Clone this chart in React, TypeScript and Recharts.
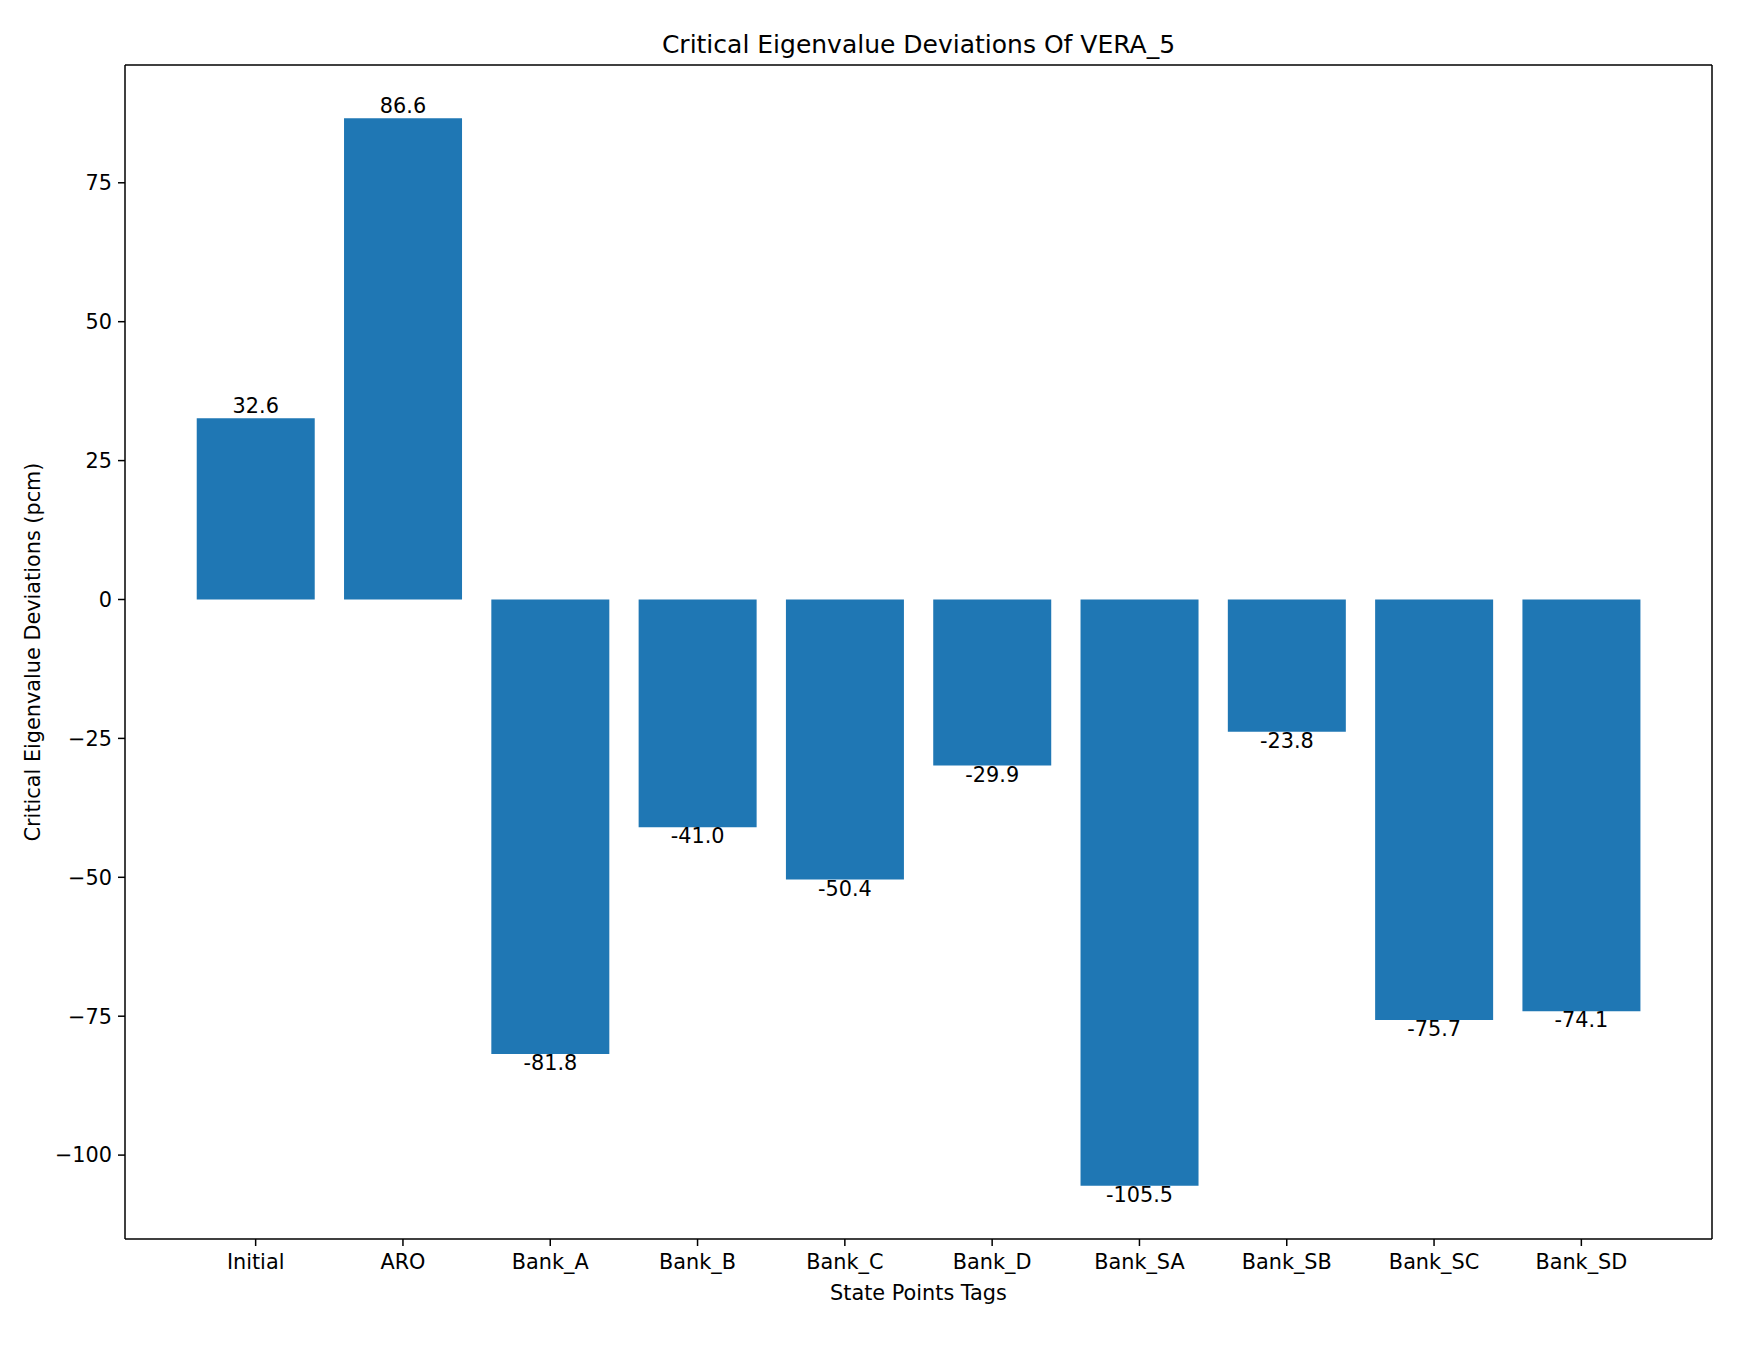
import { BarChart, Bar, XAxis, YAxis, LabelList } from 'recharts';

const categories = ['Initial', 'ARO', 'Bank_A', 'Bank_B', 'Bank_C', 'Bank_D', 'Bank_SA', 'Bank_SB', 'Bank_SC', 'Bank_SD'];
const deviations = [32.6, 86.6, -81.8, -41.0, -50.4, -29.9, -105.5, -23.8, -75.7, -74.1];
const yTicks = [-100, -75, -50, -25, 0, 25, 50, 75];

const FONT = 'DejaVu Sans';
const FS = 20.8;
const BLUE = '#1f77b4';

const chartData = categories.map((name, i) => ({ name, value: deviations[i] }));

const formatTick = (v: number) => (v < 0 ? `\u2212${Math.abs(v)}` : `${v}`);

function TitleLabel({ viewBox }: any) {
  return (
    <text x={viewBox.x + viewBox.width / 2} y={viewBox.y + viewBox.height - 12.5} textAnchor="middle" fontFamily={FONT} fontSize={25} fill="#000">
      Critical Eigenvalue Deviations Of VERA_5
    </text>
  );
}

function XLabel({ viewBox }: any) {
  return (
    <text x={viewBox.x + viewBox.width / 2} y={viewBox.y + 61} textAnchor="middle" fontFamily={FONT} fontSize={FS} fill="#000">
      State Points Tags
    </text>
  );
}

function YLabel({ viewBox }: any) {
  const cx = viewBox.x + 33;
  const cy = viewBox.y + viewBox.height / 2;
  return (
    <text x={cx} y={cy} transform={`rotate(-90, ${cx}, ${cy})`} textAnchor="middle" dominantBaseline="central" fontFamily={FONT} fontSize={FS} fill="#000">
      Critical Eigenvalue Deviations (pcm)
    </text>
  );
}

function ValueLabel(props: any) {
  const { x, y, width, height, value } = props;
  const top = Math.min(y, y + height);
  const bottom = Math.max(y, y + height);
  const cx = x + width / 2;
  const neg = value < 0;
  return (
    <text x={cx} y={neg ? bottom + 16 : top - 5} textAnchor="middle" fontFamily={FONT} fontSize={FS} fill="#000">
      {Number(value).toFixed(1)}
    </text>
  );
}

export default function App() {
  return (
    <div style={{ position: 'absolute', left: 0, top: 0, width: 1753, height: 1351, background: '#fff' }}>
      <BarChart
        width={1753}
        height={1351}
        data={chartData}
        margin={{ top: 64, right: 40, bottom: 0, left: 0 }}
        barCategoryGap="10%"
      >
        <XAxis
          dataKey="name"
          height={112}
          padding={{ left: 57, right: 57 }}
          axisLine={{ stroke: '#000', strokeWidth: 1.5 }}
          tickLine={{ stroke: '#000', strokeWidth: 1.5 }}
          tickSize={7}
          tickMargin={8}
          tick={{ fill: '#000', fontSize: FS, fontFamily: FONT }}
          interval={0}
          label={<XLabel />}
        />
        <XAxis
          xAxisId="top"
          dataKey="name"
          orientation="top"
          height={1}
          tick={false}
          tickLine={false}
          axisLine={{ stroke: '#000', strokeWidth: 1.5 }}
          label={<TitleLabel />}
        />
        <YAxis
          type="number"
          width={125}
          domain={[-115.1, 96.2]}
          ticks={yTicks}
          allowDataOverflow
          tickFormatter={formatTick}
          axisLine={{ stroke: '#000', strokeWidth: 1.5 }}
          tickLine={{ stroke: '#000', strokeWidth: 1.5 }}
          tickSize={7}
          tickMargin={6}
          tick={{ fill: '#000', fontSize: FS, fontFamily: FONT }}
          label={<YLabel />}
        />
        <YAxis
          yAxisId="right"
          orientation="right"
          type="number"
          width={1}
          domain={[-115.1, 96.2]}
          tick={false}
          tickLine={false}
          axisLine={{ stroke: '#000', strokeWidth: 1.5 }}
        />
        <Bar dataKey="value" fill={BLUE} isAnimationActive={false}>
          <LabelList dataKey="value" content={<ValueLabel />} />
        </Bar>
      </BarChart>
    </div>
  );
}
